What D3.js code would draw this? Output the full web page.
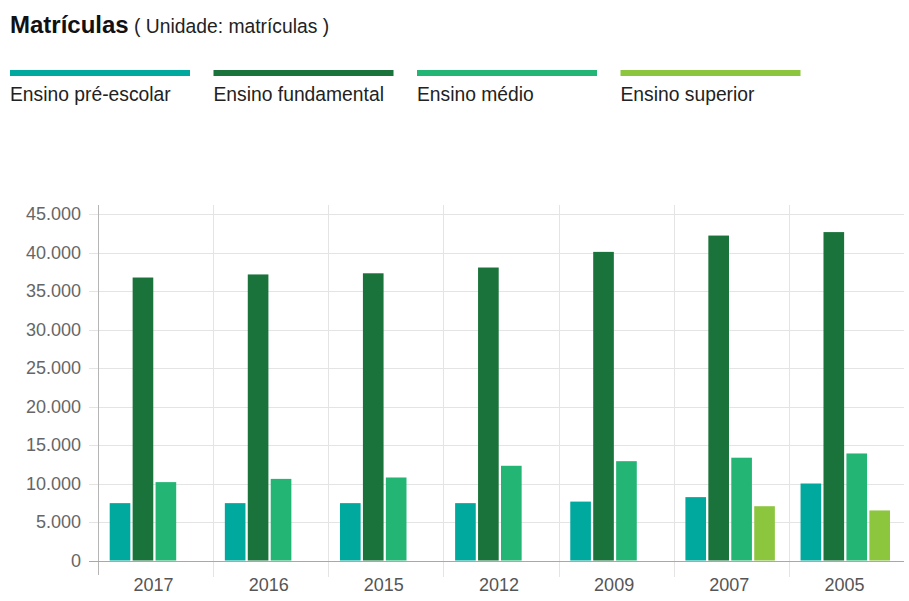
<!DOCTYPE html>
<html>
<head>
<meta charset="utf-8">
<script src="https://cdn.jsdelivr.net/npm/d3@7"></script>
<style>
  body { margin: 0; background: #fff; }
  svg { display: block; font-family: "Liberation Sans", Arial, sans-serif; }
</style>
</head>
<body>
<svg width="909" height="601"></svg>
<script>
var YEARS = ['2017', '2016', '2015', '2012', '2009', '2007', '2005']
var SERIES = ['Ensino pré-escolar', 'Ensino fundamental', 'Ensino médio', 'Ensino superior']
var COLORS = ['#00a99d', '#19733a', '#23b574', '#8cc63f']
// values per series, same order as YEARS (null = no bar)
var PRE_ESCOLAR = [7450, 7450, 7450, 7450, 7650, 8230, 10000]
var FUNDAMENTAL = [36750, 37150, 37300, 38050, 40080, 42200, 42650]
var MEDIO = [10180, 10600, 10780, 12300, 12900, 13350, 13900]
var SUPERIOR = [null, null, null, null, null, 7050, 6500]
var Y_TICKS = [0, 5000, 10000, 15000, 20000, 25000, 30000, 35000, 40000, 45000]

const VALUES = [PRE_ESCOLAR, FUNDAMENTAL, MEDIO, SUPERIOR]
const PLOT = { left: 98, right: 904, top: 205, zero: 560.5, max: 214 }

const svg = d3.select('svg')

// title
const title = svg.append('text').attr('x', 10).attr('y', 33)
title.append('tspan').text('Matrículas')
    .attr('font-weight', 'bold').attr('font-size', 24).attr('fill', '#111')
title.append('tspan').text(' ( Unidade: matrículas )')
    .attr('font-size', 19.3).attr('fill', '#222')

// legend
const legend = svg.selectAll('.legend')
    .data(SERIES)
    .enter()
    .append('g')
    .classed('legend', true)
    .attr('transform', (d, i) => `translate(${10 + i * 203.5},0)`)
legend.append('rect')
    .attr('y', 70).attr('width', 180).attr('height', 6)
    .attr('fill', (d, i) => COLORS[i])
legend.append('text')
    .attr('y', 101)
    .attr('font-size', 19.3)
    .attr('fill', '#222')
    .text(d => d)

const x = d3.scaleBand()
    .domain(YEARS)
    .range([PLOT.left, PLOT.right])
    .padding(0)

const x1 = d3.scaleBand()
    .domain(d3.range(SERIES.length))
    .range([0, x.bandwidth()])
    .paddingInner(0)
    .paddingOuter(0.51)

const y = d3.scaleLinear()
    .domain([0, 45000])
    .range([PLOT.zero, PLOT.max])

// horizontal grid
svg.append('g')
    .selectAll('line')
    .data(Y_TICKS.slice(1))
    .enter()
    .append('line')
    .attr('x1', PLOT.left - 9).attr('x2', PLOT.right)
    .attr('y1', d => Math.round(y(d)) + 0.5).attr('y2', d => Math.round(y(d)) + 0.5)
    .attr('stroke', '#e4e4e4')

// vertical grid at band edges
svg.append('g')
    .selectAll('line')
    .data(YEARS.slice(1))
    .enter()
    .append('line')
    .attr('x1', d => Math.round(x(d)) + 0.5).attr('x2', d => Math.round(x(d)) + 0.5)
    .attr('y1', PLOT.top).attr('y2', 577)
    .attr('stroke', '#e4e4e4')

// bars
const groups = svg.append('g')
    .selectAll('g')
    .data(YEARS)
    .enter()
    .append('g')
    .attr('transform', d => `translate(${x(d)},0)`)
groups.selectAll('rect')
    .data((d, j) => VALUES.map((vals, i) => ({ s: i, value: vals[j] })).filter(d => d.value != null))
    .enter()
    .append('rect')
    .attr('x', d => x1(d.s))
    .attr('width', x1.bandwidth() - 2.3) // small white gap between bars
    .attr('y', d => y(d.value))
    .attr('height', d => y(0) - y(d.value))
    .attr('fill', d => COLORS[d.s])

// y axis line and zero line
svg.append('line')
    .attr('x1', PLOT.left + 0.5).attr('x2', PLOT.left + 0.5)
    .attr('y1', PLOT.top).attr('y2', 575)
    .attr('stroke', '#b5b5b5')
svg.append('line')
    .attr('x1', PLOT.left - 9).attr('x2', PLOT.right)
    .attr('y1', Math.round(y(0)) + 0.5).attr('y2', Math.round(y(0)) + 0.5)
    .attr('stroke', '#a8a8a8')

// y labels
svg.append('g')
    .selectAll('text')
    .data(Y_TICKS)
    .enter()
    .append('text')
    .attr('x', 81)
    .attr('y', d => y(d))
    .attr('dy', '0.36em')
    .attr('text-anchor', 'end')
    .attr('font-size', 18)
    .attr('fill', '#666')
    .text(d => d3.format(',')(d).replace(/,/g, '.'))

// x labels
svg.append('g')
    .selectAll('text')
    .data(YEARS)
    .enter()
    .append('text')
    .attr('x', d => x(d) + x.bandwidth() / 2 - 2)
    .attr('y', 591)
    .attr('text-anchor', 'middle')
    .attr('font-size', 18)
    .attr('fill', '#555')
    .text(d => d)
</script>
</body>
</html>
